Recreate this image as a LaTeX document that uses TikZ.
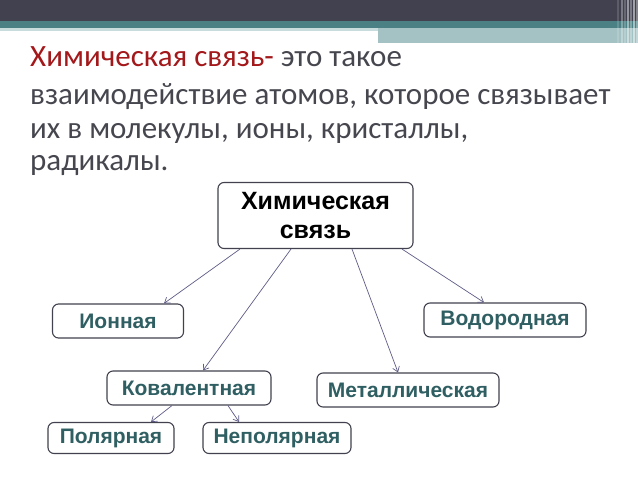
\documentclass[tikz,border=0pt]{standalone}
\usepackage{fontspec}
\setmainfont{Carlito}
\newfontfamily\boxfont{Liberation Sans}
\usetikzlibrary{arrows.meta}

\definecolor{headdark}{HTML}{41414F}
\definecolor{headteal}{HTML}{4B8185}
\definecolor{headlight}{HTML}{A4C2C4}
\definecolor{headpale}{HTML}{C9DCDD}
\definecolor{termred}{HTML}{A3181A}
\definecolor{bodygray}{HTML}{46464F}
\definecolor{kindteal}{HTML}{2F5F62}
\definecolor{linkgray}{HTML}{5E5C86}

\newcommand*{\pw}{638}
\newcommand*{\ph}{479}

\begin{document}
\begin{tikzpicture}
[
	x=1pt,
	y=-1pt,
	bondbox/.style={draw=headdark,line width=1.1pt,rounded corners=6pt,fill=white,inner sep=0pt,
		font=\boxfont\bfseries\fontsize{21}{24}\selectfont,text=kindteal},
	link/.style={linkgray,line width=0.7pt,-{Straight Barb[length=5pt,width=7pt]}},
	textline/.style={anchor=base west,inner sep=0pt,text=bodygray,font=\fontsize{31}{34}\selectfont}
]

	\useasboundingbox (0,0) rectangle (\pw,\ph);

	% header bands
	\fill[headdark] (0,0) rectangle (\pw,21);
	\fill[headteal] (0,21) rectangle (\pw,28);
	\fill[headpale] (0,28) rectangle (378,31);
	\fill[headlight] (378,28) rectangle (\pw,43);
	\foreach \x/\o in {618/0.15,622/0.3,625/0.2,628/0.45,631/0.3,634/0.5,637/0.35} {
		\draw[white,opacity=\o,line width=1.5pt] (\x,0) -- (\x,45);
	}

	% definition
	\node[textline] (def1) at (30,66)
		{\textcolor{termred}{Химическая связь-} это такое};
	\node[textline] (def2) at (30,104)
		{взаимодействие атомов, которое связывает};
	\node[textline] (def3) at (30,138)
		{их в молекулы, ионы, кристаллы,};
	\node[textline] (def4) at (30,170)
		{радикалы.};

	% boxes
	\node[bondbox,text=black,minimum width=195pt,minimum height=66pt,align=center,
		font=\boxfont\bfseries\fontsize{25}{29}\selectfont] (chem) at (315.5,215.5)
		{Химическая\\связь};
	\node[bondbox,minimum width=131pt,minimum height=34pt] (ion) at (118,321) {Ионная};
	\node[bondbox,minimum width=162pt,minimum height=34pt] (hydro) at (505,320) {Водородная};
	\node[bondbox,minimum width=164pt,minimum height=34pt] (coval) at (189,388) {Ковалентная};
	\node[bondbox,minimum width=182pt,minimum height=34pt] (metal) at (408,390) {Металлическая};
	\node[bondbox,minimum width=126pt,minimum height=31pt] (polar) at (111,438) {Полярная};
	\node[bondbox,minimum width=148pt,minimum height=31pt] (nonpolar) at (277,438) {Неполярная};

	% links
	\draw[link] ([xshift=-75.5pt]chem.south) -- ([xshift=46pt]ion.north);
	\draw[link] ([xshift=-24.5pt]chem.south) -- ([xshift=14pt]coval.north);
	\draw[link] ([xshift=36.5pt]chem.south) -- ([xshift=-10pt]metal.north);
	\draw[link] ([xshift=86.5pt]chem.south) -- ([xshift=-21pt]hydro.north);
	\draw[link] ([xshift=-17pt]coval.south) -- ([xshift=40pt]polar.north);
	\draw[link] ([xshift=39pt]coval.south) -- ([xshift=-38pt]nonpolar.north);

\end{tikzpicture}
\end{document}
